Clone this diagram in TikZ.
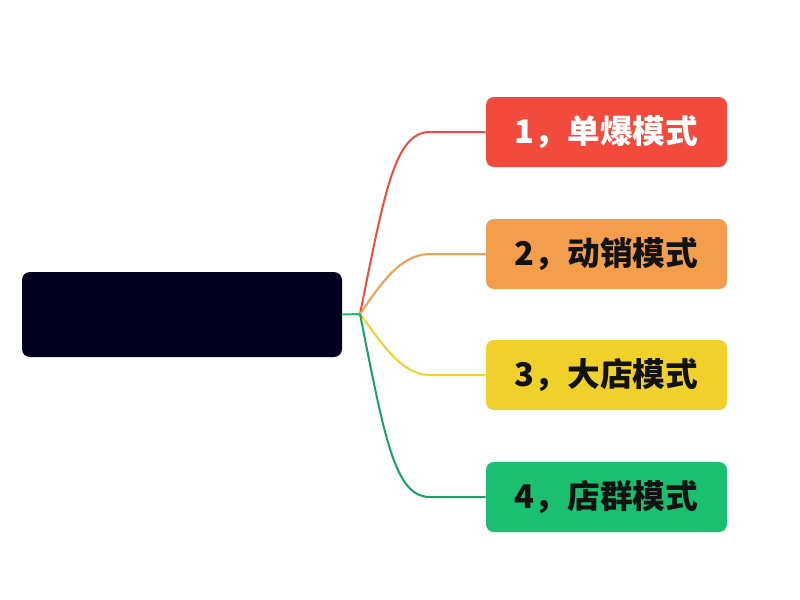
\documentclass[tikz,border=0pt]{standalone}
\usepackage{fontspec}
\usepackage{xcolor}
\newfontfamily\cjk{Noto Sans CJK SC}
\usetikzlibrary{arrows, calc}
\definecolor{rootc}{HTML}{02021E}
\definecolor{redc}{HTML}{F24A3D}
\definecolor{orangec}{HTML}{F39E4C}
\definecolor{yellowc}{HTML}{F0D12C}
\definecolor{greenc}{HTML}{1ABF72}

\begin{document}
\begin{tikzpicture}[x=0.75pt, y=-0.75pt]
		\tikzset{root/.style = {shape=rectangle, rounded corners=6pt, fill=rootc, minimum width=240pt, minimum height=63.75pt, inner sep=0pt}}
		\tikzset{branch/.style = {shape=rectangle, rounded corners=6pt, minimum width=180.75pt, minimum height=52.5pt, inner sep=0pt, font=\cjk\bfseries\fontsize{24.5}{28}\selectfont, text=black!93}}
		\tikzset{edge/.style = {line width=1.5pt}}

		\useasboundingbox (0,0) rectangle (800,600);

		\node[root] (R) at (182,314.5) {};
		\coordinate (J) at (360,314);

		\node[branch, fill=redc, text=white] (B_1) at (606.5,132) {1，单爆模式};
		\node[branch, fill=orangec] (B_2) at (606.5,254) {2，动销模式};
		\node[branch, fill=yellowc] (B_3) at (606.5,375) {3，大店模式};
		\node[branch, fill=greenc] (B_4) at (606.5,497) {4，店群模式};

		\coordinate (C_1) at (430,132);
		\coordinate (C_2) at (430,254);
		\coordinate (C_3) at (430,375);
		\coordinate (C_4) at (430,497);

		\draw[edge, greenc] (R.east) to (J);

		\draw[edge, redc] (J) .. controls (385,190) and (395,132) .. (C_1) -- (B_1.west);
		\draw[edge, orangec] (J) .. controls (380,285) and (400,254) .. (C_2) -- (B_2.west);
		\draw[edge, yellowc] (J) .. controls (380,340) and (400,375) .. (C_3) -- (B_3.west);
		\draw[edge, greenc!85!black] (J) .. controls (385,440) and (395,497) .. (C_4) -- (B_4.west);

	\end{tikzpicture}
\end{document}
